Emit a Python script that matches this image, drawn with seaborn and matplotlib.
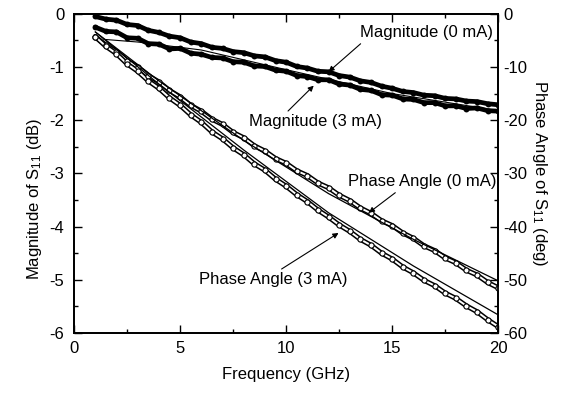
import matplotlib
matplotlib.use('Agg')
import matplotlib.pyplot as plt
import seaborn as sns
from matplotlib.ticker import MultipleLocator

sns.set_style('ticks')
plt.rcParams['font.family'] = ['Liberation Sans', 'DejaVu Sans']
plt.rcParams['mathtext.default'] = 'regular'
plt.rcParams['text.color'] = 'black'
plt.rcParams['axes.labelcolor'] = 'black'
plt.rcParams['axes.unicode_minus'] = False

# Frequency points (GHz)
freq = [1.0, 1.5, 2.0, 2.5, 3.0, 3.5, 4.0, 4.5, 5.0, 5.5, 6.0, 6.5, 7.0, 7.5,
        8.0, 8.5, 9.0, 9.5, 10.0, 10.5, 11.0, 11.5, 12.0, 12.5, 13.0, 13.5,
        14.0, 14.5, 15.0, 15.5, 16.0, 16.5, 17.0, 17.5, 18.0, 18.5, 19.0,
        19.5, 20.0]

# Magnitude of S11 (dB)
mag_0mA = [-0.05, -0.10, -0.12, -0.20, -0.22, -0.31, -0.35, -0.42, -0.45, -0.53,
           -0.56, -0.63, -0.65, -0.71, -0.73, -0.79, -0.81, -0.88, -0.91, -0.99,
           -1.02, -1.08, -1.09, -1.16, -1.19, -1.26, -1.29, -1.36, -1.40, -1.46,
           -1.48, -1.53, -1.54, -1.59, -1.60, -1.64, -1.65, -1.69, -1.71]
mag_3mA = [-0.25, -0.33, -0.34, -0.45, -0.46, -0.56, -0.57, -0.66, -0.65, -0.74,
           -0.76, -0.82, -0.83, -0.90, -0.91, -0.98, -0.99, -1.06, -1.08, -1.16,
           -1.18, -1.24, -1.24, -1.32, -1.34, -1.42, -1.44, -1.52, -1.53, -1.60,
           -1.61, -1.67, -1.67, -1.73, -1.73, -1.78, -1.77, -1.82, -1.83]

# Phase angle of S11 (deg)
phase_0mA = [-4.3, -5.9, -7.1, -8.8, -10.0, -11.6, -12.8, -14.4, -15.6, -17.2,
             -18.3, -19.8, -20.8, -22.3, -23.3, -24.8, -25.8, -27.2, -28.1, -29.5,
             -30.4, -31.8, -32.7, -34.1, -35.1, -36.5, -37.5, -38.9, -39.8, -41.2,
             -42.2, -43.6, -44.5, -45.9, -46.8, -48.2, -49.1, -50.5, -51.5]
phase_3mA = [-4.3, -6.1, -7.5, -9.4, -10.8, -12.6, -14.0, -15.8, -17.2, -19.0,
             -20.4, -22.2, -23.5, -25.2, -26.5, -28.2, -29.4, -31.1, -32.4, -34.0,
             -35.3, -36.9, -38.2, -39.7, -40.9, -42.4, -43.5, -45.0, -46.1, -47.6,
             -48.7, -50.1, -51.1, -52.5, -53.5, -54.9, -56.0, -57.5, -58.8]

# Model curves (thin lines)
model_freq = [1.0, 4.0, 8.0, 12.0, 16.0, 20.0]
model_phase_0mA = [-3.4, -12.6, -23.8, -33.8, -42.4, -50.2]
model_phase_3mA = [-3.4, -13.2, -25.6, -37.4, -47.4, -56.6]
model_mag_3mA_freq = [1.4, 3.0, 6.0, 10.0, 15.0, 20.0]
model_mag_3mA = [-0.48, -0.53, -0.68, -1.05, -1.50, -1.82]

fig = plt.figure(figsize=(5.74, 3.95), dpi=100)
ax = fig.add_axes([0.129, 0.157, 0.739, 0.808])
ax2 = ax.twinx()
ax.set_zorder(ax2.get_zorder() + 1)
ax.patch.set_visible(False)

# phase: hollow chain of open circles
for ph in [phase_0mA, phase_3mA]:
    sns.lineplot(x=freq, y=ph, ax=ax2, color='black', lw=3.6, sort=False)
    sns.lineplot(x=freq, y=ph, ax=ax2, color='white', lw=1.4, sort=False)
    sns.scatterplot(x=freq, y=ph, ax=ax2, s=14, marker='o', facecolor='white',
                    edgecolor='black', linewidth=0.8, zorder=4)
for mp in [model_phase_0mA, model_phase_3mA]:
    sns.lineplot(x=model_freq, y=mp, ax=ax2, color='black', lw=0.9, zorder=5)

# magnitude: dense filled dots
for mg in [mag_0mA, mag_3mA]:
    sns.lineplot(x=freq, y=mg, ax=ax, color='black', lw=3.4, sort=False)
    sns.scatterplot(x=freq, y=mg, ax=ax, s=18, color='black', linewidth=0)
sns.lineplot(x=model_mag_3mA_freq, y=model_mag_3mA, ax=ax, color='black', lw=0.8)

ax.set_xlim(0, 20)
ax.set_ylim(-6, 0)
ax2.set_ylim(-60, 0)
ax.xaxis.set_major_locator(MultipleLocator(5))
ax.xaxis.set_minor_locator(MultipleLocator(2.5))
ax.yaxis.set_major_locator(MultipleLocator(1))
ax.yaxis.set_minor_locator(MultipleLocator(0.5))
ax2.yaxis.set_major_locator(MultipleLocator(10))
ax2.yaxis.set_minor_locator(MultipleLocator(5))

for a in [ax, ax2]:
    a.tick_params(which='both', direction='in', labelsize=12, width=1, colors='black')
    a.tick_params(which='major', length=6)
    a.tick_params(which='minor', length=3)
    for s in a.spines.values():
        s.set_linewidth(1.3)
        s.set_color('black')
ax.tick_params(which='both', top=True, right=False)
ax.tick_params(axis='x', pad=6)
ax.tick_params(axis='y', pad=7)
ax2.tick_params(which='both', right=True, left=False)

ax.set_xlabel('Frequency (GHz)', fontsize=12, labelpad=8)
ax.set_ylabel('Magnitude of S$_{11}$ (dB)', fontsize=12)
ax.yaxis.set_label_coords(-0.07, 0.42)
ax2.set_ylabel('Phase Angle of S$_{11}$ (deg)', fontsize=12, rotation=270, labelpad=16)

arrow = dict(arrowstyle='-|>', color='black', lw=0.8, mutation_scale=8, shrinkA=0, shrinkB=0)
ax.annotate('Magnitude (0 mA)', xy=(12.0, -1.09), xytext=(13.5, -0.36),
            fontsize=12, va='center', ha='left',
            arrowprops=dict(arrow, relpos=(0.03, 0.0)))
ax.annotate('Magnitude (3 mA)', xy=(11.3, -1.35), xytext=(8.24, -2.03),
            fontsize=12, va='center', ha='left',
            arrowprops=dict(arrow, relpos=(0.27, 1.0)))
ax.annotate('Phase Angle (0 mA)', xy=(13.9, -3.74), xytext=(12.9, -3.16),
            fontsize=12, va='center', ha='left',
            arrowprops=dict(arrow, relpos=(0.35, 0.0)))
ax.annotate('Phase Angle (3 mA)', xy=(12.47, -4.12), xytext=(5.9, -5.0),
            fontsize=12, va='center', ha='left',
            arrowprops=dict(arrow, relpos=(0.52, 1.0)))

fig.savefig('out.png', dpi=100)
